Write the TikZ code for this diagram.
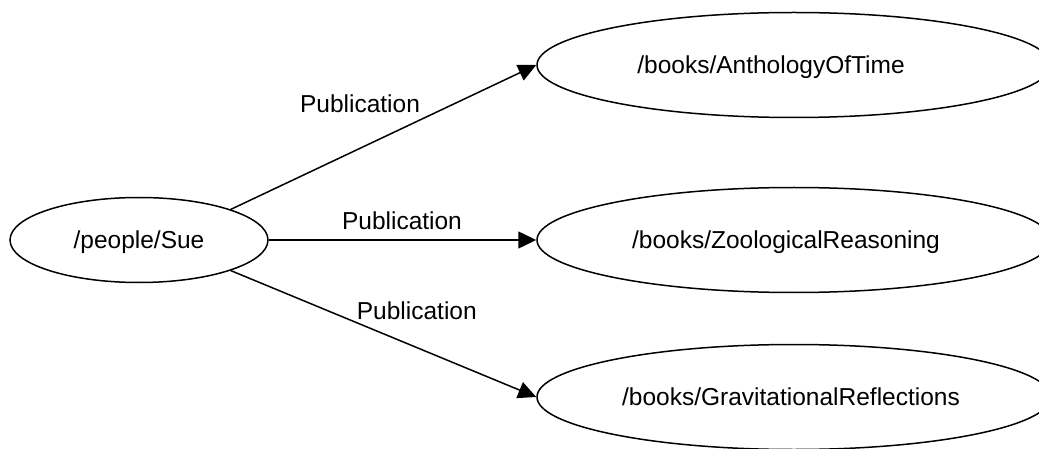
\documentclass[tikz,border=0pt]{standalone}
\usepackage{fontspec}
\setmainfont{Liberation Sans}
\usetikzlibrary{shapes.geometric,arrows.meta}
\tikzset{
  ent/.style={draw=black, line width=1.5pt, ellipse, inner sep=0pt, text depth=0pt, font=\fontsize{24.5}{28}\selectfont},
  person/.style={ent, minimum width=258pt, minimum height=85pt},
  book/.style={ent, minimum width=514pt, minimum height=105pt},
  rel/.style={draw=black, line width=1.5pt, -{Triangle[length=18pt,width=17pt]}},
  lbl/.style={inner sep=0pt, font=\fontsize{24.5}{28}\selectfont}
}
\begin{document}
\begin{tikzpicture}[x=1pt,y=-1pt]
\useasboundingbox (0,0) rectangle (1039,449);
\clip (0,0) rectangle (1039,449);
\node[person] (sue) at (139,240) {/people/Sue};
\node[book] (anth) at (794,65) {\hspace*{-46pt}/books/AnthologyOfTime};
\node[book] (zoo) at (794,240) {\hspace*{-16pt}/books/ZoologicalReasoning};
\node[book] (grav) at (794,397) {\hspace*{-6pt}/books/GravitationalReflections};
\draw[rel] (sue.north east) -- node[lbl, pos=0.423, yshift=44.6pt] {Publication} (anth.west);
\draw[rel] (sue.east) -- node[lbl, pos=0.498, yshift=19pt] {Publication} (zoo.west);
\draw[rel] (sue.south east) -- node[lbl, pos=0.609, yshift=37pt] {Publication} (grav.west);
\end{tikzpicture}
\end{document}
